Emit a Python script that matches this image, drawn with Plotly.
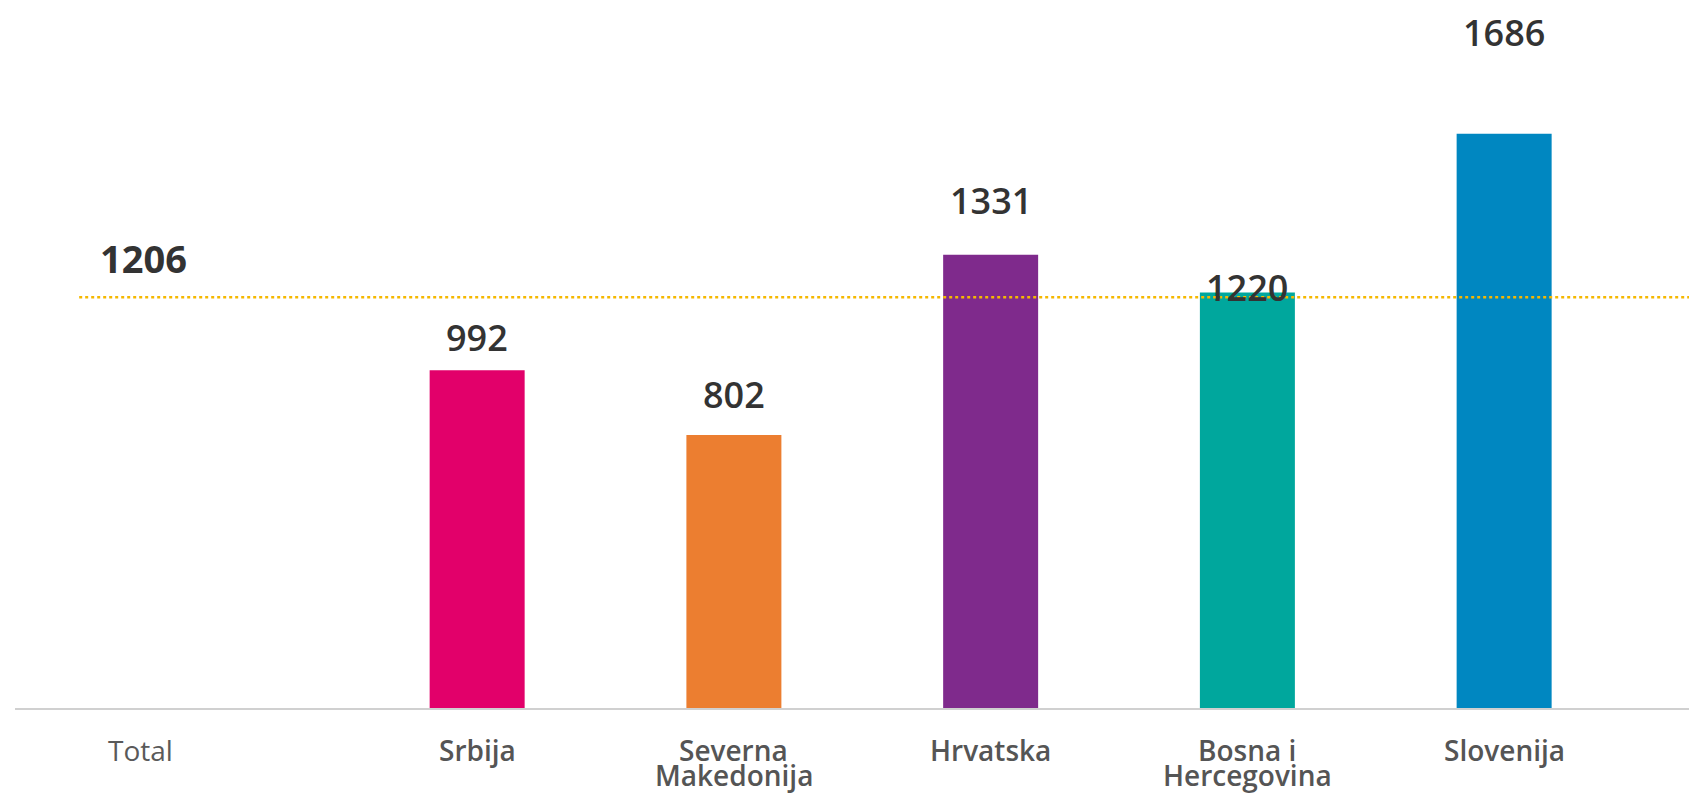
import plotly.graph_objects as go

categories = ["Srbija", "Severna Makedonija", "Hrvatska", "Bosna i Hercegovina", "Slovenija"]
category_lines = [["Srbija"], ["Severna", "Makedonija"], ["Hrvatska"], ["Bosna i", "Hercegovina"], ["Slovenija"]]
values = [992, 802, 1331, 1220, 1686]
total_label = "Total"
total_value = 1206
bar_colors = ["#E2006A", "#EC7E30", "#7F2A8C", "#00A79D", "#0087C1"]

# pixel offsets of value labels above bar tops (as drawn in the reference)
label_shift = [33, 40, 54, 5, 101]

fig = go.Figure()
fig.add_trace(go.Bar(
    x=categories, y=values, marker=dict(color=bar_colors, line=dict(width=0)),
    width=0.37, hoverinfo="x+y",
))

for cat, v, s in zip(categories, values, label_shift):
    fig.add_annotation(x=cat, y=v, text=str(v), showarrow=False, yshift=s,
                       yanchor="middle", xanchor="center", borderpad=0,
                       font=dict(family="Open Sans", size=36, color="#333333", weight=600))

# category labels (tight two-line spacing as in the reference)
for cat, lines in zip(categories, category_lines):
    for i, ln in enumerate(lines):
        fig.add_annotation(x=cat, xref="x", yref="paper", y=0, text=ln, showarrow=False,
                           yshift=-42 - 25 * i, yanchor="middle", xanchor="center", borderpad=0,
                           font=dict(family="Open Sans", size=28, color="#555555", weight=600))

# average line
fig.add_shape(type="line", xref="x", yref="y", x0=-1.55, x1=4.72, y0=total_value, y1=total_value,
              line=dict(color="#F5B800", width=2.5, dash="dot"))
fig.add_annotation(x=-1.30, y=total_value, text=str(total_value), showarrow=False, yshift=39,
                   yanchor="middle", xanchor="center", borderpad=0,
                   font=dict(family="Open Sans", size=38, color="#333333", weight=700))
fig.add_annotation(x=-1.31, yref="paper", y=0, text=total_label, showarrow=False, yshift=-42,
                   yanchor="middle", xanchor="center", borderpad=0,
                   font=dict(family="Open Sans", size=28, color="#5a5a5a"))

fig.update_layout(
    width=1697, height=795,
    margin=dict(l=15, r=8, t=0, b=87),
    plot_bgcolor="white", paper_bgcolor="white",
    showlegend=False,
    xaxis=dict(type="category", range=[-1.80, 4.72], showgrid=False, zeroline=False,
               showline=True, linecolor="#d0d0d0", linewidth=2, ticks="",
               showticklabels=False),
    yaxis=dict(range=[0, 2079], visible=False, showgrid=False, zeroline=False),
)

fig.write_html("out.html", config={"displayModeBar": False},
               post_script="document.body.style.margin='0';document.body.style.overflow='hidden';")
